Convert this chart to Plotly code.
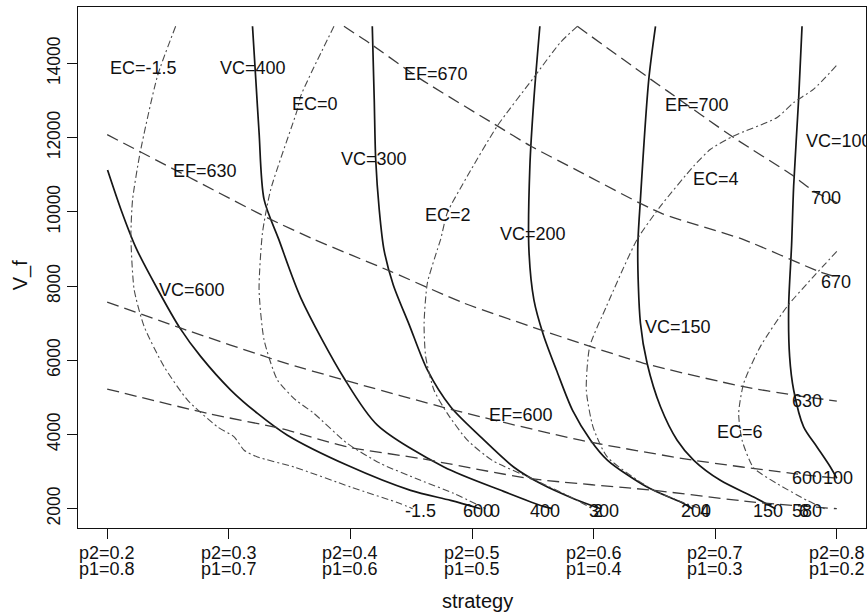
import plotly.graph_objects as go

# ---------------- data ----------------
x_tick_p2 = [0.2, 0.3, 0.4, 0.5, 0.6, 0.7, 0.8]
x_tick_p1 = [0.8, 0.7, 0.6, 0.5, 0.4, 0.3, 0.2]
y_ticks = [2000, 4000, 6000, 8000, 10000, 12000, 14000]

# VC contours (solid)
vc600_x = [0.2003, 0.2113, 0.2236, 0.2417, 0.2597, 0.2770, 0.3016, 0.3236, 0.3482, 0.3975, 0.4495, 0.4824, 0.5070]
vc600_y = [11125, 10063, 9036, 7901, 6874, 6098, 5198, 4568, 3981, 3170, 2495, 2224, 2000]
vc400_x = [0.3195, 0.3222, 0.3249, 0.3290, 0.3411, 0.3592, 0.3947, 0.4222, 0.4769, 0.5260, 0.5588, 0.5660]
vc400_y = [15000, 13570, 12136, 10334, 9257, 7684, 5522, 4252, 3124, 2468, 2062, 2000]
vc300_x = [0.4180, 0.4196, 0.4208, 0.4237, 0.4276, 0.4352, 0.4484, 0.4633, 0.4824, 0.5071, 0.5342, 0.5564, 0.5836, 0.6058]
vc300_y = [15000, 13036, 11415, 10064, 8982, 8037, 6955, 5739, 4746, 3935, 3124, 2676, 2270, 2000]
vc200_x = [0.5558, 0.5509, 0.5476, 0.5468, 0.5509, 0.5588, 0.5695, 0.5827, 0.5975, 0.6115, 0.6443, 0.6739, 0.6813]
vc200_y = [15000, 13036, 11234, 8982, 7630, 6676, 5730, 4649, 3846, 3305, 2576, 2143, 2000]
vc150_x = [0.6509, 0.6454, 0.6385, 0.6363, 0.6385, 0.6440, 0.6550, 0.6687, 0.6824, 0.7042, 0.7316, 0.7495]
vc150_y = [15000, 13577, 10334, 8982, 7000, 5919, 4746, 3846, 3305, 2765, 2314, 2000]
vc100_x = [0.7714, 0.7686, 0.7645, 0.7628, 0.7604, 0.7612, 0.7645, 0.7727, 0.7837, 0.7947, 0.8000]
vc100_y = [15000, 13036, 10693, 9100, 7449, 6098, 5198, 4206, 3665, 3124, 2820]

# EF contours (dashed)
ef700_x = [0.5866, 0.6468, 0.6605, 0.7152, 0.7645, 0.7809, 0.8000]
ef700_y = [15000, 13577, 13260, 12001, 10963, 10558, 10250]
ef670_x = [0.3947, 0.4167, 0.4578, 0.5208, 0.5482, 0.5892, 0.6550, 0.7229, 0.7863, 0.8000]
ef670_y = [15000, 14523, 13577, 12315, 11774, 11071, 9970, 9257, 8379, 8241]
ef630_x = [0.2000, 0.2550, 0.3318, 0.3701, 0.4331, 0.4933, 0.5564, 0.5892, 0.6412, 0.7234, 0.7645, 0.8000]
ef630_y = [12080, 11144, 9839, 9257, 8395, 7541, 6820, 6460, 5919, 5287, 5062, 4900]
ef600_x = [0.2000, 0.2606, 0.3427, 0.3947, 0.4851, 0.5892, 0.6823, 0.7645, 0.8000]
ef600_y = [7568, 6865, 5963, 5468, 4657, 3846, 3305, 2946, 2820]
ef580_x = [0.2000, 0.2825, 0.3427, 0.3975, 0.4577, 0.5481, 0.6495, 0.7316, 0.8000]
ef580_y = [5225, 4568, 4162, 3665, 3352, 2811, 2495, 2178, 2000]

# EC contours (dash-dot)
ecm15_x = [0.2563, 0.2414, 0.2271, 0.2209, 0.2195, 0.2222, 0.2304, 0.2468, 0.2661, 0.2907, 0.3044, 0.3126, 0.3236, 0.3537, 0.4003, 0.4413, 0.4512]
ecm15_y = [15000, 13666, 11596, 10333, 9345, 7901, 6909, 5827, 4927, 4206, 3935, 3576, 3395, 3124, 2584, 2135, 2000]
ec0_x = [0.3865, 0.3592, 0.3565, 0.3345, 0.3277, 0.3249, 0.3290, 0.3400, 0.3550, 0.3698, 0.3975, 0.4249, 0.4577, 0.4849, 0.5111]
ec0_y = [15000, 13126, 12766, 10604, 9433, 7901, 6550, 5468, 4930, 4576, 3757, 3216, 2765, 2414, 2000]
ec2_x = [0.5866, 0.5728, 0.5509, 0.5208, 0.4962, 0.4797, 0.4742, 0.4715, 0.4633, 0.4606, 0.4619, 0.4687, 0.4797, 0.4962, 0.5167, 0.5500, 0.5811, 0.5990]
ec2_y = [15000, 14569, 13623, 12315, 10963, 9974, 9257, 8982, 8082, 7000, 6098, 5198, 4568, 3846, 3300, 2800, 2314, 2000]
ec4_x = [0.7996, 0.7810, 0.7645, 0.7509, 0.7152, 0.6961, 0.6823, 0.6550, 0.6358, 0.6105, 0.5968, 0.5940, 0.5995, 0.6112, 0.6495, 0.6877]
ec4_y = [13937, 13307, 12947, 12542, 12045, 11685, 11234, 10152, 9257, 7449, 6368, 5198, 4206, 3395, 2495, 2000]
ec6_x = [0.8000, 0.7810, 0.7591, 0.7371, 0.7234, 0.7193, 0.7221, 0.7316, 0.7509, 0.7755, 0.7900]
ec6_y = [8936, 8260, 7449, 6368, 5379, 4568, 3846, 3100, 2676, 2225, 2000]

# contour labels
label_text = ["EC=-1.5", "VC=400", "EC=0", "EF=670", "VC=300", "EC=2", "VC=200",
              "EF=700", "EC=4", "700", "EF=630", "VC=600", "670", "VC=150",
              "630", "EC=6", "600", "100", "EF=600",
              "-1.5", "600", "0", "400", "300", "2", "200", "4", "150", "580", "6"]
label_x = [0.2302, 0.3197, 0.3707, 0.4701, 0.4197, 0.4804, 0.5498,
           0.6854, 0.7006, 0.7914, 0.2803, 0.2696, 0.7996, 0.6698,
           0.7755, 0.7207, 0.7757, 0.8012, 0.5399,
           0.4578, 0.5050, 0.5190, 0.5597, 0.6083, 0.6040, 0.6845, 0.6920, 0.7437, 0.7755, 0.7730]
label_y = [13888, 13888, 12901, 13716, 11415, 9928, 9398,
           12874, 10880, 10361, 11090, 7901, 8098, 6893,
           4908, 4070, 2827, 2827, 4522,
           1927, 1927, 1927, 1927, 1927, 1927, 1927, 1927, 1927, 1927, 1927]
vc100_label = "VC=100"
vc100_label_x = 0.7727
vc100_label_y = 11909

# ---------------- figure ----------------
FONT = "Liberation Sans, Arial, Helvetica, sans-serif"
fig = go.Figure()

solid = dict(color="#161616", width=1.7, shape="spline", smoothing=0.8)
dashed = dict(color="#3c3c3c", width=1.3, dash="12px,6px", shape="spline", smoothing=0.6)
dashdot = dict(color="#4a4a4a", width=1.1, dash="7px,3px,2px,3px", shape="spline", smoothing=0.6)

for name, xs, ys in [("VC=600", vc600_x, vc600_y), ("VC=400", vc400_x, vc400_y),
                     ("VC=300", vc300_x, vc300_y), ("VC=200", vc200_x, vc200_y),
                     ("VC=150", vc150_x, vc150_y), ("VC=100", vc100_x, vc100_y)]:
    fig.add_trace(go.Scatter(x=xs, y=ys, mode="lines", name=name, line=solid))
for name, xs, ys in [("EF=700", ef700_x, ef700_y), ("EF=670", ef670_x, ef670_y),
                     ("EF=630", ef630_x, ef630_y), ("EF=600", ef600_x, ef600_y),
                     ("EF=580", ef580_x, ef580_y)]:
    fig.add_trace(go.Scatter(x=xs, y=ys, mode="lines", name=name, line=dashed))
for name, xs, ys in [("EC=-1.5", ecm15_x, ecm15_y), ("EC=0", ec0_x, ec0_y),
                     ("EC=2", ec2_x, ec2_y), ("EC=4", ec4_x, ec4_y),
                     ("EC=6", ec6_x, ec6_y)]:
    fig.add_trace(go.Scatter(x=xs, y=ys, mode="lines", name=name, line=dashdot))

annotations = []
for t, x, y in zip(label_text, label_x, label_y):
    annotations.append(dict(x=x, y=y, xref="x", yref="y", text=t, showarrow=False,
                            font=dict(family=FONT, size=18, color="#111"),
                            xanchor="center", yanchor="middle"))
annotations.append(dict(x=vc100_label_x, y=vc100_label_y, xref="x", yref="y",
                        text=vc100_label, showarrow=False,
                        font=dict(family=FONT, size=18, color="#111"),
                        xanchor="left", yanchor="middle"))
for p2, p1 in zip(x_tick_p2, x_tick_p1):
    annotations.append(dict(x=p2, y=0, xref="x", yref="paper", text=f"p2={p2}",
                            showarrow=False, yshift=-25, yanchor="middle",
                            font=dict(family=FONT, size=18, color="#111")))
    annotations.append(dict(x=p2, y=0, xref="x", yref="paper", text=f"p1={p1}",
                            showarrow=False, yshift=-41, yanchor="middle",
                            font=dict(family=FONT, size=18, color="#111")))
annotations.append(dict(x=0.507, y=0, xref="paper", yref="paper", text="strategy",
                        showarrow=False, yshift=-73, yanchor="middle",
                        font=dict(family=FONT, size=20, color="#111")))
annotations.append(dict(x=0, y=0.485, xref="paper", yref="paper", text="V_f",
                        showarrow=False, xshift=-58, xanchor="center", yanchor="middle",
                        textangle=-90, font=dict(family=FONT, size=20, color="#111")))

fig.update_layout(
    width=867, height=613,
    margin=dict(l=78, r=1, t=7, b=85),
    paper_bgcolor="white", plot_bgcolor="white",
    showlegend=False,
    font=dict(family=FONT, size=17.5, color="#111"),
    annotations=annotations,
    xaxis=dict(range=[0.176, 0.824], tickvals=x_tick_p2, ticktext=[""] * len(x_tick_p2),
               showgrid=False, zeroline=False, showline=True, mirror=True,
               linecolor="#111", linewidth=1.4, ticks="outside", ticklen=10,
               tickwidth=1.3, tickcolor="#111"),
    yaxis=dict(range=[1480, 15520], tickvals=y_ticks, ticktext=[str(v) for v in y_ticks],
               tickangle=-90, showgrid=False, zeroline=False, showline=True, mirror=True,
               linecolor="#111", linewidth=1.4, ticks="outside", ticklen=10,
               tickwidth=1.3, tickcolor="#111", tickfont=dict(size=17.5)),
)

fig.write_html("out.html", config={"displayModeBar": False},
               post_script="document.body.style.margin='0';document.body.style.overflow='hidden';")
